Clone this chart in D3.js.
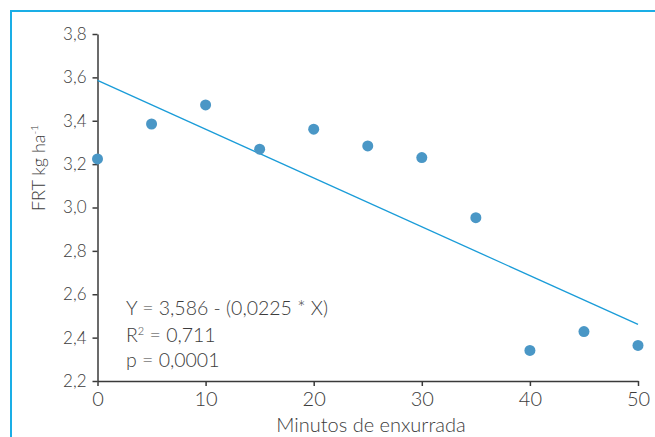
<!DOCTYPE html>
<html>
<head>
<meta charset="utf-8">
<script src="https://cdn.jsdelivr.net/npm/d3@7"></script>
<style>
  body { margin: 0; background: #fff; }
  text { font-family: Lato, "Open Sans", sans-serif; font-weight: 300; fill: #3c3c3c; }
  .axis path, .axis line { stroke: #3a3a3a; stroke-width: 1.5; }
</style>
</head>
<body>
<svg id="chart" width="655" height="437"></svg>
<script>
var minutes = [0, 5, 10, 15, 20, 25, 30, 35, 40, 45, 50];
var frt = [3.224, 3.385, 3.473, 3.269, 3.361, 3.284, 3.23, 2.953, 2.341, 2.428, 2.364];
var intercept = 3.586;
var slope = -0.0225;
var yTicks = [2.2, 2.4, 2.6, 2.8, 3.0, 3.2, 3.4, 3.6, 3.8];
var xTicks = [0, 10, 20, 30, 40, 50];
var statLines = ["Y = 3,586 - (0,0225 * X)", "R2 = 0,711", "p = 0,0001"];

var svg = d3.select("#chart");

// frame
svg.append("path")
  .attr("d", "M11,437 V11 H655")
  .attr("fill", "none")
  .attr("stroke", "#1aaee6")
  .attr("stroke-width", 2);

var x = d3.scaleLinear().domain([0, 50]).range([97.5, 638]);
var y = d3.scaleLinear().domain([2.2, 3.8]).range([381, 34]);

var comma = function (d) { return d3.format(".1f")(d).replace(".", ","); };

svg.append("g")
  .attr("class", "axis")
  .attr("transform", "translate(" + x(0) + ",0)")
  .call(d3.axisLeft(y).tickValues(yTicks).tickSize(5).tickSizeOuter(0).tickPadding(6).tickFormat(comma))
  .call(function (g) { g.selectAll("text").attr("font-size", 17).attr("font-family", null); });

svg.append("g")
  .attr("class", "axis")
  .attr("transform", "translate(0," + y(2.2) + ")")
  .call(d3.axisBottom(x).tickValues(xTicks).tickSize(5).tickSizeOuter(0).tickPadding(6))
  .call(function (g) { g.selectAll("text").attr("font-size", 20).attr("font-family", null); });

// regression line
svg.append("line")
  .attr("x1", x(0)).attr("y1", y(intercept))
  .attr("x2", x(50)).attr("y2", y(intercept + slope * 50))
  .attr("stroke", "#1a9cd8")
  .attr("stroke-width", 1.3);

// points
svg.selectAll(".pt").data(minutes).enter().append("circle")
  .attr("class", "pt")
  .attr("cx", function (d) { return x(d); })
  .attr("cy", function (d, i) { return y(frt[i]); })
  .attr("r", 5.5)
  .attr("fill", "#4a97c6");

// stats
var stats = svg.append("text").attr("x", 126).attr("y", 315).attr("font-size", 19.5);
stats.append("tspan").attr("x", 126).attr("y", 315).text(statLines[0]);
var r2 = stats.append("tspan").attr("x", 126).attr("y", 342).text("R");
r2.append("tspan").attr("dy", -7).attr("font-size", 11).text("2");
stats.append("tspan").attr("dy", 7).text(statLines[1].slice(2));
stats.append("tspan").attr("x", 126).attr("y", 367).text(statLines[2]);

// axis titles
svg.append("text")
  .attr("x", 371).attr("y", 432)
  .attr("text-anchor", "middle")
  .attr("font-size", 20)
  .text("Minutos de enxurrada");

var yt = svg.append("text")
  .attr("transform", "translate(45,168) rotate(-90)")
  .attr("text-anchor", "middle")
  .attr("font-size", 18)
  .text("FRT kg ha");
yt.append("tspan").attr("dy", -7).attr("font-size", 10).text("-1");
</script>
</body>
</html>
